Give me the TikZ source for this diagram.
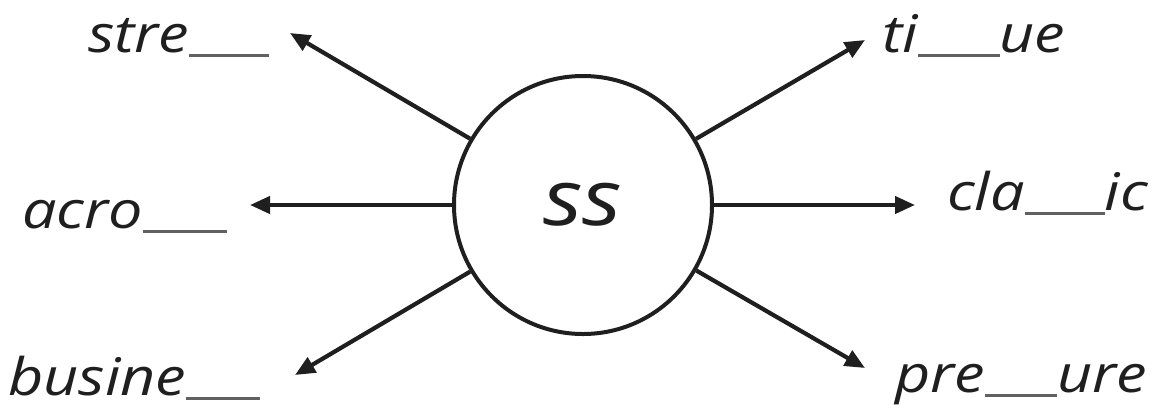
\documentclass[tikz,border=0pt]{standalone}
\usepackage{fontspec}
\setmainfont{Open Sans}
\newfontfamily\handfont[FakeStretch=1.18]{Open Sans}
\usetikzlibrary{arrows.meta}
\tikzset{
 conn/.style={line width=4.2bp, draw=black!88, -{Triangle[length=20bp,width=17bp]}},
 word/.style={anchor=base west, inner sep=0pt, font=\handfont\fontsize{52}{52}\selectfont\itshape, text=black!88},
 hub/.style={circle, draw=black!88, line width=4bp, minimum size=258bp, inner sep=0pt, font=\handfont\fontsize{78}{78}\selectfont\itshape, text=black!88},
}
\newcommand{\blankline}[1]{\textcolor{black!62}{\rule[-5bp]{#1bp}{2.8bp}}}
\begin{document}
\begin{tikzpicture}[x=1bp,y=-1bp]
\useasboundingbox (0,0) rectangle (1170,409);
\node[hub] (c) at (583,205) {ss};
\coordinate (t1) at (290,33);
\coordinate (t2) at (250,205);
\coordinate (t3) at (295,375);
\coordinate (t4) at (865,40);
\coordinate (t5) at (915,205);
\coordinate (t6) at (865,368);
\foreach \t in {t1,t2,t3,t4,t5,t6} \draw[conn] (c) -- (\t);
\node[word] (w1) at (88,52) {stre\blankline{80}};
\node[word] (w2) at (22,228) {acro\blankline{84}};
\node[word] (w3) at (8,395) {busine\blankline{74}};
\node[word] (w4) at (882,52) {ti\blankline{82}ue};
\node[word] (w5) at (947,210) {cla\blankline{80}ic};
\node[word] (w6) at (895,392) {pre\blankline{72}ure};
\end{tikzpicture}
\end{document}
